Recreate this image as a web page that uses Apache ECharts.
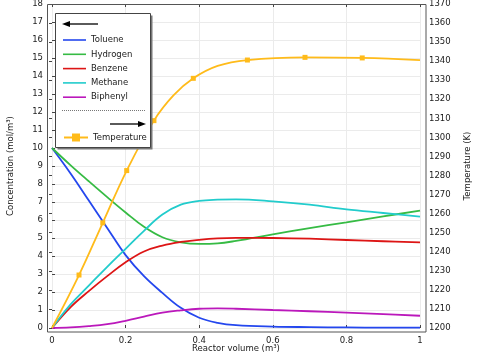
<!DOCTYPE html>
<html>
<head>
<meta charset="utf-8">
<script src="https://cdn.jsdelivr.net/npm/echarts@6/dist/echarts.min.js"></script>
<style>
html,body{margin:0;padding:0;background:#fff;}
#c{width:477px;height:363px;}
</style>
</head>
<body>
<div id="c"></div>
<script>
// ---- data ----
const vol      = [0, 0.05, 0.1, 0.15, 0.2, 0.25, 0.3, 0.35, 0.4, 0.45, 0.5, 0.6, 0.7, 0.8, 0.9, 1.0];
const toluene  = [10, 8.6, 7.08, 5.56, 4.05, 2.88, 1.95, 1.12, 0.57, 0.29, 0.16, 0.08, 0.05, 0.03, 0.02, 0.02];
const hydrogen = [10, 9.05, 8.15, 7.27, 6.42, 5.62, 5.04, 4.76, 4.67, 4.7, 4.84, 5.2, 5.55, 5.87, 6.2, 6.52];
const benzene  = [0, 1.15, 2.05, 2.88, 3.65, 4.25, 4.58, 4.78, 4.9, 4.98, 5.01, 5.0, 4.96, 4.89, 4.82, 4.76];
const methane  = [0, 1.3, 2.35, 3.4, 4.4, 5.4, 6.3, 6.85, 7.06, 7.13, 7.15, 7.04, 6.85, 6.59, 6.39, 6.19];
const biphenyl = [0, 0.03, 0.1, 0.21, 0.4, 0.63, 0.85, 0.98, 1.07, 1.09, 1.07, 1.0, 0.93, 0.85, 0.77, 0.68];

const tempVol    = [0, 0.0734, 0.138, 0.203, 0.277, 0.33, 0.384, 0.45, 0.531, 0.6875, 0.843, 1.0];
const tempK      = [1200, 1227.8, 1255.2, 1282.6, 1308.8, 1322, 1331, 1337.5, 1340.6, 1342, 1341.7, 1340.5];
const tempMarker = [0, 1, 1, 1, 1, 0, 1, 0, 1, 1, 1, 0];

const concNames = ['Toluene', 'Hydrogen', 'Benzene', 'Methane', 'Biphenyl'];
const concData  = [toluene, hydrogen, benzene, methane, biphenyl];
const colors    = ['#2447ee', '#36bb44', '#dd1515', '#22cccc', '#bb18bb'];
const tempColor = '#ffbb1a';

const FONT = 'DejaVu Sans';
const FS = 8.5;
const TXT = '#1a1a1a';
const LINE_ICON = 'path://M0,0M0,4.2H23V5.8H0ZM23,10';

const chart = echarts.init(document.getElementById('c'), null, {renderer: 'canvas'});

const series = concNames.map((n, k) => ({
  name: n, type: 'line', xAxisIndex: 0, yAxisIndex: 0,
  data: vol.map((v, i) => [v, concData[k][i]]),
  smooth: 0.4, showSymbol: false, symbol: 'none',
  lineStyle: {color: colors[k], width: 1.8},
  itemStyle: {color: colors[k]},
  z: 2
}));
series.push({
  name: 'Temperature', type: 'line', xAxisIndex: 0, yAxisIndex: 1,
  data: tempVol.map((v, i) => tempMarker[i] ? {value: [v, tempK[i]]} : {value: [v, tempK[i]], symbol: 'none'}),
  smooth: 0.4, symbol: 'rect', symbolSize: 5, showSymbol: true,
  lineStyle: {color: tempColor, width: 1.8},
  itemStyle: {color: tempColor},
  z: 3
});

const option = {
  animation: false,
  backgroundColor: '#fff',
  textStyle: {fontFamily: FONT},
  grid: [{left: 52, right: 57, top: 4, bottom: 35, containLabel: false, outerBoundsMode: 'none'}],
  xAxis: [
    {type: 'value', position: 'bottom', min: 0, max: 1, interval: 0.2, offset: 4,
     name: 'Reactor volume (m³)', nameLocation: 'middle', nameGap: 12, nameMoveOverlap: false,
     nameTextStyle: {fontFamily: FONT, fontSize: FS, color: TXT},
     axisLine: {show: false},
     axisTick: {show: true, inside: true, length: 3, lineStyle: {color: '#444'}},
     axisLabel: {fontFamily: FONT, fontSize: FS, color: TXT, margin: 4},
     splitLine: {show: true, lineStyle: {color: '#ebebeb', width: 1}}},
    {type: 'value', position: 'top', min: 0, max: 1, interval: 0.2, offset: 0,
     axisLine: {show: false},
     axisTick: {show: true, inside: true, length: 3, lineStyle: {color: '#444'}},
     axisLabel: {show: false}, splitLine: {show: false}}
  ],
  yAxis: [
    {type: 'value', position: 'left', min: 0, max: 18, interval: 1, offset: 5,
     name: 'Concentration (mol/m³)', nameLocation: 'middle', nameGap: 32, nameRotate: 90, nameMoveOverlap: false,
     nameTextStyle: {fontFamily: FONT, fontSize: FS, color: TXT},
     axisLine: {show: false},
     axisTick: {show: true, inside: true, length: 3, lineStyle: {color: '#444'}},
     axisLabel: {fontFamily: FONT, fontSize: FS, color: TXT, margin: 4},
     splitLine: {show: true, lineStyle: {color: '#ebebeb', width: 1}}},
    {type: 'value', position: 'right', min: 1200, max: 1370, interval: 10, offset: 6,
     name: 'Temperature (K)', nameLocation: 'middle', nameGap: 37, nameRotate: 90, nameMoveOverlap: false,
     nameTextStyle: {fontFamily: FONT, fontSize: FS, color: TXT},
     axisLine: {show: false},
     axisTick: {show: true, inside: true, length: 3, lineStyle: {color: '#444'}},
     axisLabel: {fontFamily: FONT, fontSize: FS, color: TXT, margin: 3, formatter: v => String(v)},
     splitLine: {show: false}}
  ],
  legend: [
    {data: concNames.map(n => ({name: n, icon: LINE_ICON})), orient: 'vertical', left: 63, top: 35, padding: 0,
     itemWidth: 23, itemHeight: 10, itemGap: 4.3,
     textStyle: {fontFamily: FONT, fontSize: FS, color: TXT}, z: 20, selectedMode: false},
    {data: ['Temperature'], orient: 'vertical', left: 63, top: 133, padding: 0, itemWidth: 24, itemHeight: 10,
     textStyle: {fontFamily: FONT, fontSize: FS, color: TXT}, z: 20, selectedMode: false}
  ],
  graphic: [
    // plot frame
    {type: 'rect', shape: {x: 47.5, y: 4.5, width: 378.5, height: 327.5}, silent: true,
     style: {fill: 'none', stroke: '#555', lineWidth: 1}, z: 5},
    // legend box shadow + box
    {type: 'rect', shape: {x: 57.5, y: 15.5, width: 95, height: 134}, silent: true,
     style: {fill: '#777', stroke: null}, z: 10},
    {type: 'rect', shape: {x: 55.5, y: 13.5, width: 95, height: 134}, silent: true,
     style: {fill: '#fff', stroke: '#444', lineWidth: 1}, z: 11},
    // left arrow
    {type: 'line', shape: {x1: 67, y1: 24, x2: 98, y2: 24}, silent: true,
     style: {stroke: '#000', lineWidth: 1.3}, z: 12},
    {type: 'polygon', shape: {points: [[62, 24], [70, 21], [70, 27]]}, silent: true,
     style: {fill: '#000'}, z: 12},
    // dotted separator
    {type: 'line', shape: {x1: 62, y1: 110.5, x2: 146, y2: 110.5}, silent: true,
     style: {stroke: '#777', lineWidth: 1, lineDash: [1, 1]}, z: 12},
    // right arrow
    {type: 'line', shape: {x1: 110, y1: 124, x2: 141, y2: 124}, silent: true,
     style: {stroke: '#000', lineWidth: 1.3}, z: 12},
    {type: 'polygon', shape: {points: [[146, 124], [138, 121], [138, 127]]}, silent: true,
     style: {fill: '#000'}, z: 12}
  ],
  series: series
};
chart.setOption(option);
</script>
</body>
</html>
